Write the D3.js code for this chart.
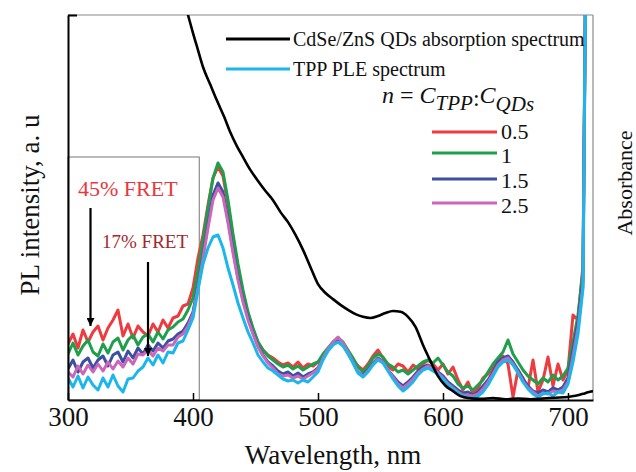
<!DOCTYPE html>
<html><head><meta charset="utf-8">
<script src="https://cdn.jsdelivr.net/npm/d3@7"></script>
<style>
html,body{margin:0;padding:0;background:#fff;}
svg{display:block;font-family:"Liberation Serif","Times New Roman",serif;}
</style></head>
<body>
<svg id="chart" width="636" height="472"></svg>
<script>
// ---------- data ----------
const wavelengths = d3.range(300, 724, 4); // 300..720 nm, 4 nm step
const seriesNames = ["0.5", "1", "1.5", "2.5"];
const plRed = [56,66,52,70,58,68,74,60,72,80,90,64,76,62,74,68,64,76,68,80,72,82,84,94,96,112,142,165,195,222,233,224,196,162,132,106,86,70,58,50,45,42,38,35,37,33,38,32,36,34,38,44,50,56,60,55,47,40,34,30,36,44,50,42,34,30,36,34,28,35,31,36,40,36,30,36,26,33,20,10,18,6,12,22,26,32,38,44,36,3,30,22,12,40,8,20,43,14,36,20,30,85,80,135,700,900];
const plGreen = [46,57,45,54,60,48,44,56,47,58,62,50,60,65,55,63,66,58,68,61,70,73,78,81,90,102,130,160,192,222,237,228,200,166,136,110,88,72,58,50,44,40,36,33,35,31,34,30,33,36,38,46,52,58,62,58,50,42,33,28,34,42,46,43,36,33,28,30,26,30,34,38,40,37,42,35,28,24,16,12,14,10,15,20,28,36,42,48,60,46,38,30,24,20,16,22,18,25,20,24,32,58,85,130,700,900];
const plBlue = [31,40,28,38,42,32,40,44,34,45,48,38,49,42,52,46,55,49,57,52,59,61,66,69,77,88,115,145,176,205,217,208,180,150,122,100,82,67,54,45,38,34,29,26,28,24,27,23,26,28,32,42,50,56,60,56,47,38,28,25,30,37,42,38,30,24,18,14,18,23,29,33,35,32,28,24,18,14,10,7,8,5,8,14,20,28,38,42,44,38,30,21,14,9,7,10,8,12,10,13,22,50,78,120,700,900];
const plMagenta = [28,23,34,26,35,28,36,29,38,31,39,33,42,36,46,45,50,44,52,49,55,55,63,66,74,86,112,142,172,200,212,203,177,147,120,98,80,66,53,44,37,32,26,24,25,22,24,21,24,27,31,42,51,58,63,57,48,38,28,24,29,36,41,38,30,23,16,12,16,21,27,31,34,31,27,22,16,12,8,5,5,4,6,11,18,26,35,40,42,36,28,19,12,8,4,7,6,9,8,10,18,44,72,115,700,900];
const pleCyan = [22,13,24,12,23,15,10,22,13,25,14,8,21,22,29,33,42,35,45,37,48,47,57,59,70,82,110,136,152,163,165,152,132,115,97,82,68,57,45,38,32,29,25,21,19,20,17,20,18,23,28,40,49,55,58,54,46,37,27,23,28,35,40,37,29,21,14,9,13,18,25,30,32,29,26,21,15,11,7,4,3,2,4,8,15,24,33,38,40,35,27,18,11,6,3,6,7,4,8,7,16,38,66,112,700,900];

const absWavelengths = [390,396,400,404,408,414,419,425,430,435,440,446,452,458,464,470,476,482,488,494,500,506,512,518,524,530,536,542,548,554,560,566,572,578,584,590,596,602,608,614,620,630,640,650,660,670,680,690,700,706,712,716,720];
const absorbance = [1.065,1.0,0.953,0.909,0.865,0.818,0.779,0.735,0.694,0.660,0.631,0.597,0.569,0.543,0.519,0.488,0.462,0.429,0.390,0.345,0.301,0.278,0.262,0.247,0.234,0.223,0.216,0.213,0.218,0.226,0.231,0.229,0.216,0.190,0.143,0.101,0.062,0.037,0.023,0.010,0.005,0.003,0.005,0.002,0.004,0.002,0.004,0.006,0.008,0.011,0.016,0.020,0.023];

const xTicks = [300, 400, 500, 600, 700];
const annotations = [
  {text: "45% FRET", wl: 318, color: "#e8383d"},
  {text: "17% FRET", wl: 364, color: "#a3282c"}
];

// ---------- layout ----------
const svg = d3.select("#chart");
const L = 68, R = 593, T = 15, B = 400;
const x = d3.scaleLinear().domain([300, 720]).range([L, R]);
const yPL = d3.scaleLinear().domain([0, 385]).range([B, T]);
const yAbs = d3.scaleLinear().domain([0, 1]).range([B, T]);

svg.append("defs").append("clipPath").attr("id", "clip")
  .append("rect").attr("x", L).attr("y", T).attr("width", R - L).attr("height", B - T);
const marker = svg.select("defs").append("marker").attr("id", "arrow")
  .attr("viewBox", "0 0 10 10").attr("refX", 10).attr("refY", 5)
  .attr("markerWidth", 8).attr("markerHeight", 8).attr("markerUnits", "userSpaceOnUse")
  .attr("orient", "auto");
marker.append("path").attr("d", "M0,0 L10,5 L0,10 Z").attr("fill", "#000");

// frame (top / right)
svg.append("line").attr("x1", L).attr("x2", R).attr("y1", T).attr("y2", T).attr("stroke", "#8a8a8a").attr("stroke-width", 1.2);
svg.append("line").attr("x1", R).attr("x2", R).attr("y1", T).attr("y2", B).attr("stroke", "#8a8a8a").attr("stroke-width", 1.2);

// inset box
svg.append("rect").attr("x", L).attr("y", 157).attr("width", x(405) - L).attr("height", B - 157)
  .attr("fill", "none").attr("stroke", "#777").attr("stroke-width", 1);

// curves
const g = svg.append("g").attr("clip-path", "url(#clip)");
const plLine = d3.line().x((d, i) => x(wavelengths[i])).y(d => yPL(d));
const plSeries = [
  {vals: plRed, color: "#ef3a3f"},
  {vals: plGreen, color: "#1ea04b"},
  {vals: plBlue, color: "#3b4fa3"},
  {vals: plMagenta, color: "#cb66b8"},
  {vals: pleCyan, color: "#1db6ec"}
];
plSeries.forEach(s => {
  g.append("path").attr("d", plLine(s.vals)).attr("fill", "none")
    .attr("stroke", s.color).attr("stroke-width", 3).attr("stroke-linejoin", "round");
});
const absLine = d3.line().curve(d3.curveMonotoneX).x((d, i) => x(absWavelengths[i])).y(d => yAbs(d));
g.append("path").attr("d", absLine(absorbance)).attr("fill", "none")
  .attr("stroke", "#000").attr("stroke-width", 2.6);

// axes
const xAxis = d3.axisBottom(x).tickValues(xTicks).tickSizeInner(-7).tickSizeOuter(0).tickPadding(7);
const ax = svg.append("g").attr("transform", `translate(0,${B})`).call(xAxis);
ax.select(".domain").attr("stroke", "#000").attr("stroke-width", 2);
ax.selectAll(".tick line").attr("stroke", "#000").attr("stroke-width", 1.5);
ax.selectAll("text").attr("font-size", 27).attr("font-family", "Liberation Serif").attr("fill", "#111");

const yAxis = d3.axisLeft(yPL).tickValues([385]).tickSizeInner(-9).tickSizeOuter(0).tickFormat("");
const ay = svg.append("g").attr("transform", `translate(${L},0)`).call(yAxis);
ay.select(".domain").attr("stroke", "#000").attr("stroke-width", 2);
ay.selectAll(".tick line").attr("stroke", "#000").attr("stroke-width", 2);

// axis titles
svg.append("text").attr("x", 333).attr("y", 464).attr("text-anchor", "middle")
  .attr("font-size", 27).attr("fill", "#111").text("Wavelength, nm");
svg.append("text").attr("transform", "translate(39,205) rotate(-90)").attr("text-anchor", "middle")
  .attr("font-size", 27).attr("fill", "#111").text("PL intensity, a. u");
svg.append("text").attr("transform", "translate(632,183) rotate(-90)").attr("text-anchor", "middle")
  .attr("font-size", 22).attr("fill", "#111").text("Absorbance");

// legend
const leg1 = [
  {label: "CdSe/ZnS QDs absorption spectrum", color: "#000", y: 39},
  {label: "TPP PLE spectrum", color: "#1db6ec", y: 69}
];
leg1.forEach(d => {
  svg.append("line").attr("x1", 226).attr("x2", 290).attr("y1", d.y).attr("y2", d.y)
    .attr("stroke", d.color).attr("stroke-width", 3.2);
  svg.append("text").attr("x", 293).attr("y", d.y + 7).attr("font-size", 20).attr("fill", "#111").text(d.label);
});
const nt = svg.append("text").attr("x", 382).attr("y", 103).attr("font-size", 24).attr("fill", "#111");
nt.append("tspan").attr("font-style", "italic").text("n");
nt.append("tspan").text(" = ");
nt.append("tspan").attr("font-style", "italic").text("C");
nt.append("tspan").attr("font-style", "italic").attr("font-size", 21).attr("dy", 7).text("TPP");
nt.append("tspan").attr("dy", -4).text(":");
nt.append("tspan").attr("font-style", "italic").attr("dy", -3).text("C");
nt.append("tspan").attr("font-style", "italic").attr("font-size", 21).attr("dy", 8).text("QDs");

const legY = [132, 153, 179, 203];
const legTextY = [139, 163, 188, 213];
seriesNames.forEach((name, i) => {
  svg.append("line").attr("x1", 432).attr("x2", 497).attr("y1", legY[i]).attr("y2", legY[i])
    .attr("stroke", plSeries[i].color).attr("stroke-width", 3.2);
  svg.append("text").attr("x", 501).attr("y", legTextY[i]).attr("font-size", 22).attr("fill", "#111").text(name);
});

// annotations
svg.append("text").attr("x", 78).attr("y", 196).attr("font-size", 22).attr("fill", annotations[0].color).text(annotations[0].text);
svg.append("line").attr("x1", x(annotations[0].wl)).attr("x2", x(annotations[0].wl)).attr("y1", 208).attr("y2", 326)
  .attr("stroke", "#000").attr("stroke-width", 2.2).attr("marker-end", "url(#arrow)");
svg.append("text").attr("x", 102).attr("y", 248).attr("font-size", 19).attr("fill", annotations[1].color).text(annotations[1].text);
svg.append("line").attr("x1", x(annotations[1].wl)).attr("x2", x(annotations[1].wl)).attr("y1", 262).attr("y2", 356)
  .attr("stroke", "#000").attr("stroke-width", 2.2).attr("marker-end", "url(#arrow)");
</script>
</body></html>
